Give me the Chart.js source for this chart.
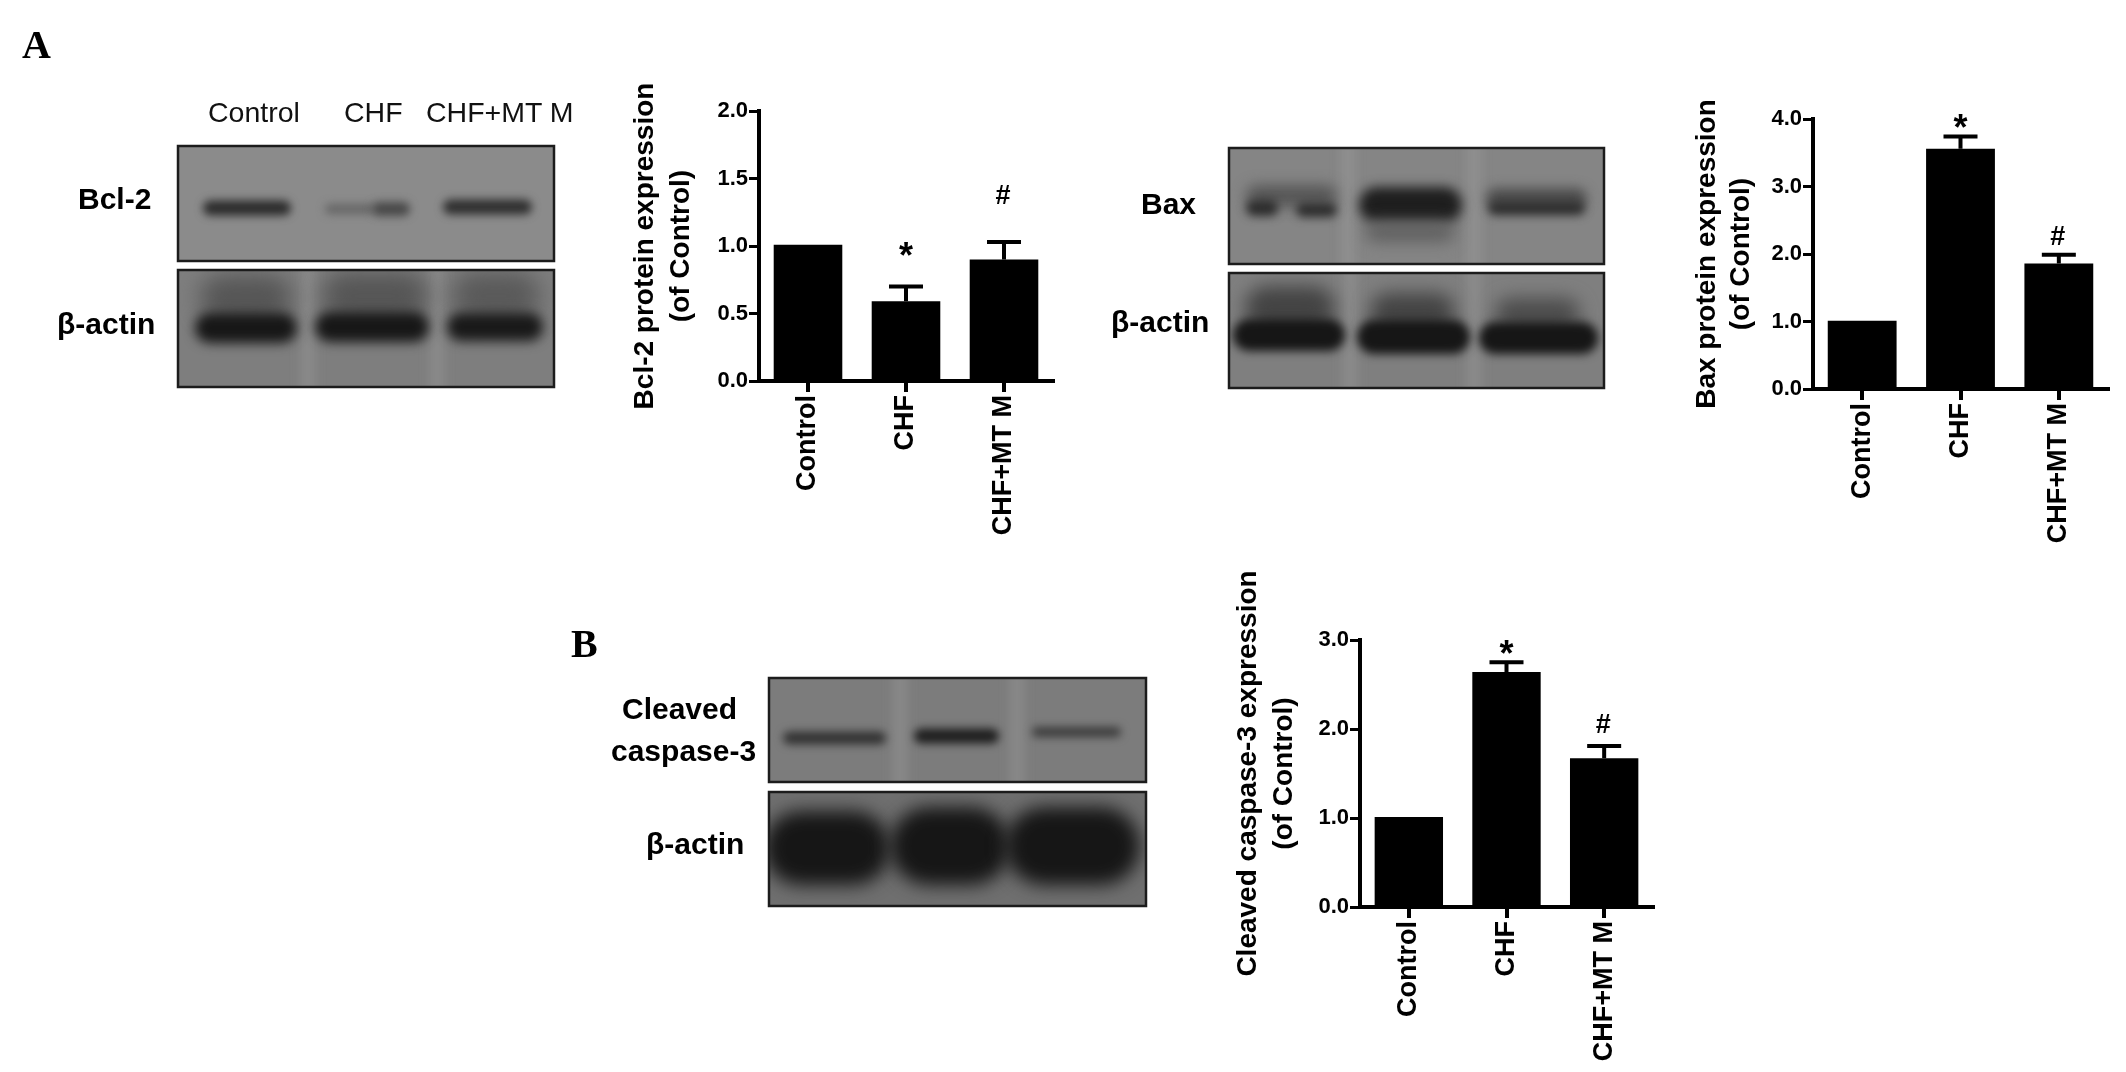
<!DOCTYPE html>
<html>
<head>
<meta charset="utf-8">
<title>Bcl-2, Bax and cleaved caspase-3 expression</title>
<script src="https://cdn.jsdelivr.net/npm/chart.js@4"></script>
<style>
    body { margin: 0; background: #fff; width: 2126px; height: 1072px; position: relative; overflow: hidden; }
    canvas { position: absolute; }
    .label { position: absolute; white-space: nowrap; color: #000; transform: translateY(-50%); line-height: 1; font-family: "Liberation Sans", sans-serif; }
    .bold { font-weight: bold; font-size: 30px; }
    .plain { font-size: 28.5px; color: #111; }
    .panel { font-family: "Liberation Serif", serif; font-weight: bold; font-size: 40px; }
</style>
</head>
<body>
<canvas id="blots" width="2126" height="1072" style="left:0;top:0"></canvas>
<canvas id="chart-bcl"></canvas>
<canvas id="chart-bax"></canvas>
<canvas id="chart-casp"></canvas>

<script>
//groups, same on all three graphs
const groups = ["Control", "CHF", "CHF+MT M"];

//Bcl-2
const bclValues = [1.01, 0.59, 0.90];
const bclErrors = [null, 0.70, 1.03];
const bclMarks = ["", "*", "#"];
const bclTicks = ["0.0", "0.5", "1.0", "1.5", "2.0"];

//Bax
const baxValues = [1.01, 3.56, 1.86];
const baxErrors = [null, 3.74, 1.99];
const baxMarks = ["", "*", "#"];
const baxTicks = ["0.0", "1.0", "2.0", "3.0", "4.0"];

//cleaved caspase-3
const caspValues = [1.01, 2.64, 1.67];
const caspErrors = [null, 2.75, 1.81];
const caspMarks = ["", "*", "#"];
const caspTicks = ["0.0", "1.0", "2.0", "3.0"];

//text around the graphs
const labels = [
    ["A", 22, 45, "panel"], ["B", 571, 644, "panel"],
    ["Control", 208, 112, "plain"], ["CHF", 344, 112, "plain"], ["CHF+MT M", 426, 112, "plain"],
    ["Bcl-2", 78, 199, "bold"], ["β-actin", 57, 324, "bold"],
    ["Bax", 1141, 204, "bold"], ["β-actin", 1111, 322, "bold"],
    ["Cleaved", 622, 709, "bold"], ["caspase-3", 611, 751, "bold"], ["β-actin", 646, 844, "bold"]
];
labels.forEach(function (item) {
    var div = document.createElement("div");
    div.className = "label " + item[3];
    div.textContent = item[0];
    div.style.left = item[1] + "px";
    div.style.top = item[2] + "px";
    document.body.appendChild(div);
});

//western blot pictures, painted with blurred shapes
//band = [x from, x to, y centre, height, colour, blur]
const blotPanels = [
    { x: 178, y: 146, w: 376, h: 115, bg: "#8b8b8b", streaks: [], bands: [
        [203, 291, 208, 15, "#2c2c2c", 4], [325, 375, 209, 10, "#666666", 4], [372, 410, 209, 14, "#484848", 4], [443, 532, 207, 15, "#303030", 4]] },
    { x: 178, y: 270, w: 376, h: 117, bg: "#7e7e7e", streaks: [308, 437], bands: [
        [200, 292, 298, 46, "#565656", 11], [322, 428, 296, 48, "#565656", 11], [452, 540, 296, 48, "#5a5a5a", 11],
        [195, 297, 328, 30, "#171717", 6], [315, 429, 327, 30, "#171717", 6], [447, 543, 327, 28, "#191919", 6]] },
    { x: 1229, y: 148, w: 375, h: 116, bg: "#858585", streaks: [1348, 1474], bands: [
        [1246, 1337, 196, 22, "#565656", 7], [1246, 1278, 208, 16, "#2c2c2c", 5], [1296, 1337, 210, 14, "#2c2c2c", 5],
        [1359, 1462, 205, 36, "#1e1e1e", 6], [1365, 1455, 232, 20, "#606060", 8],
        [1486, 1587, 198, 20, "#4e4e4e", 6], [1488, 1585, 208, 14, "#2e2e2e", 5]] },
    { x: 1229, y: 273, w: 375, h: 115, bg: "#7f7f7f", streaks: [1350, 1474], bands: [
        [1245, 1335, 308, 44, "#444444", 9], [1370, 1455, 312, 38, "#444444", 9], [1495, 1580, 314, 32, "#4c4c4c", 9],
        [1233, 1345, 335, 32, "#161616", 5], [1357, 1470, 337, 34, "#161616", 5], [1479, 1598, 338, 32, "#161616", 5]] },
    { x: 769, y: 678, w: 377, h: 104, bg: "#7c7c7c", streaks: [900, 1017], bands: [
        [783, 886, 738, 13, "#333333", 4], [914, 999, 736, 15, "#1f1f1f", 4], [1032, 1121, 732, 10, "#3c3c3c", 4]] },
    { x: 769, y: 792, w: 377, h: 114, bg: "#6f6f6f", streaks: [], bands: [
        [764, 890, 848, 74, "#161616", 9], [890, 1010, 846, 78, "#161616", 9], [1005, 1140, 846, 78, "#161616", 9]] }
];

var blotCtx = document.getElementById("blots").getContext("2d");
blotPanels.forEach(function (p) {
    blotCtx.save();
    blotCtx.beginPath();
    blotCtx.rect(p.x, p.y, p.w, p.h);
    blotCtx.clip();
    blotCtx.fillStyle = p.bg;
    blotCtx.fillRect(p.x, p.y, p.w, p.h);
    //lighter gaps between the lanes
    blotCtx.filter = "blur(6px)";
    blotCtx.fillStyle = "rgba(170,170,170,0.35)";
    p.streaks.forEach(function (sx) {
        blotCtx.fillRect(sx - 6, p.y - 10, 12, p.h + 20);
    });
    p.bands.forEach(function (b) {
        blotCtx.filter = "blur(" + b[5] + "px)";
        blotCtx.fillStyle = b[4];
        blotCtx.beginPath();
        blotCtx.roundRect(b[0], b[2] - b[3] / 2, b[1] - b[0], b[3], b[3] * 0.5);
        blotCtx.fill();
    });
    blotCtx.restore();
    blotCtx.strokeStyle = "#1c1c1c";
    blotCtx.lineWidth = 2.5;
    blotCtx.strokeRect(p.x, p.y, p.w, p.h);
});

//error bars and the * / # marks, no built in option for these
const errorBars = {
    id: "errorBars",
    afterDatasetsDraw: function (chart) {
        var opts = chart.options.plugins.errorBars;
        var ctx = chart.ctx;
        var meta = chart.getDatasetMeta(0);
        ctx.save();
        ctx.strokeStyle = "#000";
        ctx.fillStyle = "#000";
        ctx.textAlign = "center";
        meta.data.forEach(function (bar, i) {
            if (opts.errors[i] === null) return;
            var top = chart.scales.y.getPixelForValue(opts.errors[i]);
            ctx.lineWidth = 4;
            ctx.beginPath();
            ctx.moveTo(bar.x, bar.y);
            ctx.lineTo(bar.x, top);
            ctx.moveTo(bar.x - 17, top);
            ctx.lineTo(bar.x + 17, top);
            ctx.stroke();
            if (opts.marks[i] === "*") {
                ctx.font = "bold 36px 'Liberation Sans'";
                ctx.fillText("*", bar.x, top - opts.gaps[i] + 17);
            } else if (opts.marks[i] === "#") {
                ctx.font = "bold 27px 'Liberation Sans'";
                ctx.fillText("#", bar.x - 1, top - opts.gaps[i] + 10);
            }
        });
        ctx.restore();
    }
};

//one graph, axisX/top/bottom/right are page pixels of the axes
var makeGraph = function (id, cfg) {
    var canvas = document.getElementById(id);
    var padTop = 80, padRight = 10, xHeight = 175;
    var left = cfg.titleX - 20;
    canvas.width = cfg.right + padRight - left;
    canvas.height = padTop + (cfg.bottom - cfg.top) + xHeight;
    canvas.style.left = left + "px";
    canvas.style.top = (cfg.top - padTop) + "px";

    new Chart(canvas, {
        type: "bar",
        data: {
            labels: groups,
            datasets: [{
                data: cfg.values,
                backgroundColor: "#000",
                borderWidth: 0,
                barPercentage: 0.7,
                categoryPercentage: 1
            }]
        },
        plugins: [errorBars],
        options: {
            responsive: false,
            animation: false,
            layout: { padding: { top: padTop, right: padRight, left: 0, bottom: 0 } },
            plugins: {
                legend: { display: false },
                tooltip: { enabled: false },
                errorBars: { errors: cfg.errors, marks: cfg.marks, gaps: cfg.gaps }
            },
            scales: {
                x: {
                    afterFit: function (scale) { scale.height = xHeight; },
                    border: { color: "#000", width: 4 },
                    grid: { display: true, drawOnChartArea: false, color: "#000", lineWidth: 4, tickLength: 11, offset: false },
                    ticks: {
                        autoSkip: false, minRotation: 90, maxRotation: 90, padding: 3,
                        color: "#000", font: { family: "Liberation Sans", size: 27, weight: "bold" }
                    }
                },
                y: {
                    min: 0,
                    max: cfg.max,
                    afterFit: function (scale) { scale.width = cfg.axisX - left; },
                    afterBuildTicks: function (scale) {
                        scale.ticks = cfg.ticks.map(function (t) { return { value: Number(t) }; });
                    },
                    border: { color: "#000", width: 4 },
                    grid: { drawOnChartArea: false, color: "#000", lineWidth: 3, tickLength: 10 },
                    title: {
                        display: true,
                        text: cfg.title,
                        color: "#000",
                        padding: { top: 20 - cfg.titleLine / 2, bottom: 0 },
                        font: { family: "Liberation Sans", size: 28, weight: "bold", lineHeight: cfg.titleLine / 28 }
                    },
                    ticks: {
                        padding: 1,
                        color: "#000",
                        font: { family: "Liberation Sans", size: 22, weight: "bold" },
                        callback: function (v) { return v.toFixed(1); }
                    }
                }
            }
        }
    });
};

makeGraph("chart-bcl", {
    values: bclValues, errors: bclErrors, marks: bclMarks, ticks: bclTicks, max: 2, gaps: [0, 36, 48],
    title: ["Bcl-2 protein expression", "(of Control)"], titleX: 645, titleLine: 36,
    axisX: 759, right: 1053, top: 111, bottom: 381
});
makeGraph("chart-bax", {
    values: baxValues, errors: baxErrors, marks: baxMarks, ticks: baxTicks, max: 4, gaps: [0, 14, 20],
    title: ["Bax protein expression", "(of Control)"], titleX: 1707, titleLine: 34,
    axisX: 1813, right: 2108, top: 119, bottom: 389
});
makeGraph("chart-casp", {
    values: caspValues, errors: caspErrors, marks: caspMarks, ticks: caspTicks, max: 3, gaps: [0, 13, 23],
    title: ["Cleaved caspase-3 expression", "(of Control)"], titleX: 1248, titleLine: 36,
    axisX: 1360, right: 1653, top: 640, bottom: 907
});
</script>
</body>
</html>
